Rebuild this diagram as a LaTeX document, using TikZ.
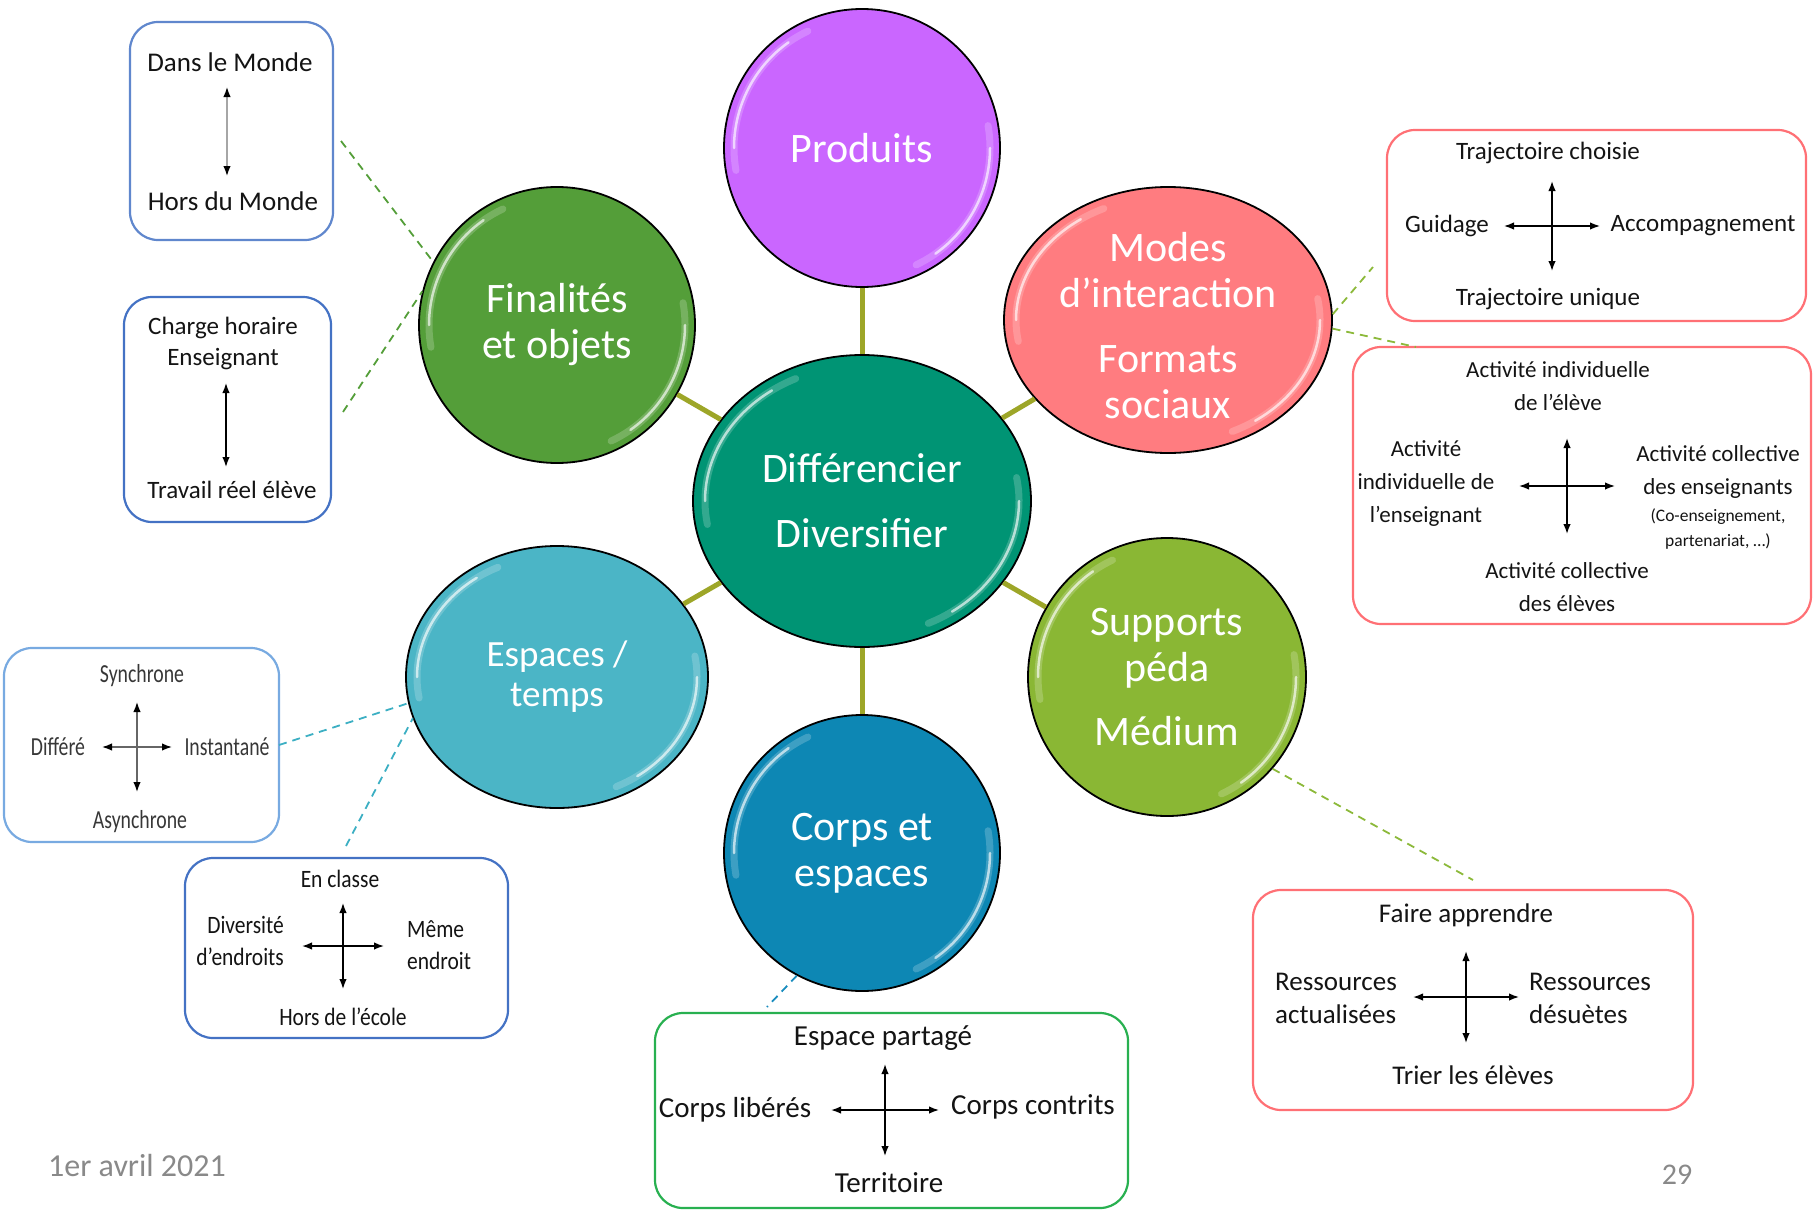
\documentclass[tikz,border=0pt]{standalone}
\usepackage{fontspec}
\setmainfont{Carlito}
\newfontfamily\condfont[FakeStretch=0.76]{Carlito}
\newfontfamily\narrowfont[FakeStretch=0.86]{Carlito}
\usepackage{xcolor}
\usetikzlibrary{shapes.geometric}
\usetikzlibrary{arrows.meta}
\usetikzlibrary{calc}

\definecolor{hubcol}{RGB}{0,148,116}
\definecolor{prodcol}{RGB}{202,102,255}
\definecolor{fincol}{RGB}{84,158,57}
\definecolor{modcol}{RGB}{255,124,128}
\definecolor{espcol}{RGB}{75,181,198}
\definecolor{supcol}{RGB}{138,183,52}
\definecolor{corcol}{RGB}{13,135,180}
\definecolor{spokecol}{RGB}{157,166,40}
\definecolor{bluecol}{RGB}{68,114,196}
\definecolor{lbluecol}{RGB}{120,170,225}
\definecolor{redcol}{RGB}{255,112,117}
\definecolor{greencol}{RGB}{40,176,80}
\definecolor{ink}{RGB}{20,20,20}
\definecolor{footgray}{RGB}{137,137,137}
\definecolor{mlink}{RGB}{140,185,58}
\definecolor{elink}{RGB}{60,175,195}
\definecolor{clink}{RGB}{25,140,190}

\begin{document}
\begin{tikzpicture}[x=1pt,y=-1pt,
    bubble/.style={ellipse,draw=black,line width=1.8pt,inner sep=0pt},
    bubtext/.style={inner sep=0pt,align=center,text=white,font=\fontsize{42}{46}\selectfont},
    spoke/.style={line width=5pt,draw=spokecol},
    card/.style={draw,rounded corners=28pt,line width=2.2pt,inner sep=0pt,fill=white},
    lbl/.style 2 args={inner sep=0pt,align=center,text=ink,font=\fontsize{#1}{#2}\selectfont},
    arr/.style={line width=1.5pt,{Latex[length=10pt,width=7.5pt,color=black]}-{Latex[length=10pt,width=7.5pt,color=black]}},
    link/.style={dash pattern=on 8pt off 6pt,line width=1.8pt},
    gloss/.style={draw=white,line width=7pt,opacity=0.2,line cap=round},
    glint/.style={draw=white,line width=2.5pt,opacity=0.65,line cap=round}]

  \useasboundingbox (0,0) rectangle (1816,1210);

  % circles
  \node[bubble,fill=hubcol,minimum width=338pt,minimum height=292pt] (hub) at (862,501) {};
  \node[bubble,fill=prodcol,minimum width=276pt,minimum height=278pt] (prod) at (862,148) {};
  \node[bubble,fill=fincol,minimum size=276pt] (fin) at (557,325) {};
  \node[bubble,fill=modcol,minimum width=328pt,minimum height=266pt] (mod) at (1168,320) {};
  \node[bubble,fill=espcol,minimum width=302pt,minimum height=262pt] (esp) at (557,677) {};
  \node[bubble,fill=supcol,minimum size=278pt] (sup) at (1167,677) {};
  \node[bubble,fill=corcol,minimum size=276pt] (cor) at (862,853) {};

  \foreach \b in {prod,fin,mod,esp,sup,cor}
    \draw[spoke] (hub) -- (\b);

  \foreach \b/\rx/\ry in {hub/157/135,prod/128/129,fin/128/128,mod/152/123,esp/140/121,sup/129/129,cor/128/128} {
    \draw[gloss] ($(\b)+({\rx*cos(-115)},{\ry*sin(-115)})$) arc[start angle=-115,end angle=-190,x radius=\rx,y radius=\ry];
    \draw[glint] ($(\b)+({\rx*cos(-125)},{\ry*sin(-125)})$) arc[start angle=-125,end angle=-180,x radius=\rx,y radius=\ry];
    \draw[gloss] ($(\b)+({\rx*cos(65)},{\ry*sin(65)})$) arc[start angle=65,end angle=-10,x radius=\rx,y radius=\ry];
    \draw[glint] ($(\b)+({\rx*cos(55)},{\ry*sin(55)})$) arc[start angle=55,end angle=0,x radius=\rx,y radius=\ry];
  }

  \node[bubtext] (hub-t) at (hub) {Différencier\\[19pt]Diversifier};
  \node[bubtext] (prod-t) at (prod) {Produits};
  \node[bubtext] (fin-t) at (fin) {Finalités\\et objets};
  \node[bubtext] (mod-t) at (1168,326) {Modes\\d’interaction\\[19pt]Formats\\sociaux};
  \node[bubtext,font=\fontsize{37}{40}\selectfont] (esp-t) at (esp) {Espaces /\\temps};
  \node[bubtext] (sup-t) at (sup) {Supports\\péda\\[18pt]Médium};
  \node[bubtext] (cor-t) at (cor) {Corps et\\espaces};

  % boxes
  \node[card,draw=bluecol!85,minimum width=203pt,minimum height=218pt] (monde) at (231.5,131) {};
  \node[card,draw=bluecol,minimum width=207pt,minimum height=225pt] (charge) at (227.5,409.5) {};
  \node[card,draw=lbluecol,minimum width=275pt,minimum height=194pt] (synchro) at (141.5,745) {};
  \node[card,draw=bluecol,minimum width=323pt,minimum height=180pt] (classe) at (346.5,948) {};
  \node[card,draw=greencol,minimum width=473pt,minimum height=195pt] (partage) at (891.5,1110.5) {};
  \node[card,draw=redcol,minimum width=440pt,minimum height=220pt] (faire) at (1473,1000) {};
  \node[card,draw=redcol,minimum width=419pt,minimum height=191pt] (traj) at (1596.5,225.5) {};
  \node[card,draw=redcol,minimum width=458pt,minimum height=277pt] (activ) at (1582,485.5) {};

  % dashed links
  \coordinate (l1) at (341,141);
  \coordinate (l2) at (343,412);
  \coordinate (l3) at (1373,267);
  \coordinate (l4) at (1416,347);
  \coordinate (l5) at (279,745);
  \coordinate (l6) at (346,846);
  \coordinate (l7) at (1473,880);
  \coordinate (l8) at (767,1007);
  \draw[link,draw=fincol] (l1) -- (fin.153);
  \draw[link,draw=fincol] (l2) -- (fin.166);
  \draw[link,draw=mlink] (mod.2) -- (l3);
  \draw[link,draw=mlink] (mod.-3) -- (l4);
  \draw[link,draw=elink] (l5) -- (esp.190);
  \draw[link,draw=elink] (l6) -- (esp.196);
  \draw[link,draw=mlink] (sup.-41) -- (l7);
  \draw[link,draw=clink] (cor.242) -- (l8);

  % arrows in the boxes
  \coordinate (c1) at (227,131.5);
  \coordinate (c2) at (226,425);
  \draw[arr,draw=gray!70] ([yshift=44.5pt]c1) -- ([yshift=-44.5pt]c1);
  \draw[arr] ([yshift=42pt]c2) -- ([yshift=-42pt]c2);
  \coordinate (c3) at (137,747);
  \coordinate (c4) at (343,946);
  \coordinate (c5) at (885,1110);
  \coordinate (c6) at (1466,997);
  \coordinate (c7) at (1552,226);
  \coordinate (c8) at (1567,486);
  \draw[arr,draw=gray!80!black] ([yshift=45pt]c3) -- ([yshift=-45pt]c3);
  \draw[arr,draw=gray!80!black] ([xshift=-35pt]c3) -- ([xshift=35pt]c3);
  \foreach \c/\w/\h in {c4/41/43,c5/54/46,c6/53/46,c7/48/45,c8/48/48} {
    \draw[arr] ([yshift=\h pt]\c) -- ([yshift=-\h pt]\c);
    \draw[arr] ([xshift=-\w pt]\c) -- ([xshift=\w pt]\c);
  }

  % box texts
  \node[lbl={27}{32}] (monde-a) at (230,62) {Dans le Monde};
  \node[lbl={27}{32}] (monde-b) at (233,201) {Hors du Monde};

  \node[lbl={25}{31}] (charge-a) at (223,343.5) {Charge horaire\\Enseignant};
  \node[lbl={25}{31}] (charge-b) at (232,490) {Travail réel élève};

  \node[lbl={26}{30},text=ink!85,font=\condfont\fontsize{26}{30}\selectfont] (sync-a) at (142,676) {Synchrone};
  \node[lbl={26}{30},text=ink!85,font=\condfont\fontsize{26}{30}\selectfont] (sync-b) at (140,822) {Asynchrone};
  \node[lbl={26}{30},text=ink!85,font=\condfont\fontsize{26}{30}\selectfont] (sync-c) at (58,747) {Différé};
  \node[lbl={26}{30},text=ink!85,font=\condfont\fontsize{26}{30}\selectfont] (sync-d) at (227,747) {Instantané};

  \node[lbl={25}{32},font=\narrowfont\fontsize{25}{32}\selectfont] (classe-a) at (340,879) {En classe};
  \node[lbl={25}{32},font=\narrowfont\fontsize{25}{32}\selectfont] (classe-b) at (343,1017) {Hors de l’école};
  \node[lbl={25}{32},font=\narrowfont\fontsize{25}{32}\selectfont,align=right,anchor=east] (classe-c) at (284,941) {Diversité\\d’endroits};
  \node[lbl={25}{32},font=\narrowfont\fontsize{25}{32}\selectfont,align=left,anchor=west] (classe-d) at (407,945) {Même\\endroit};

  \node[lbl={29}{34}] (part-a) at (883,1038) {Espace partagé};
  \node[lbl={29}{34}] (part-b) at (889,1183) {Territoire};
  \node[lbl={29}{34}] (part-c) at (735,1110) {Corps libérés};
  \node[lbl={29}{34}] (part-d) at (1033,1107) {Corps contrits};

  \node[lbl={27}{33}] (faire-a) at (1466,915) {Faire apprendre};
  \node[lbl={27}{33}] (faire-b) at (1473,1075) {Trier les élèves};
  \node[lbl={27}{33},align=left,anchor=west] (faire-c) at (1275,998.5) {Ressources\\actualisées};
  \node[lbl={27}{33},align=left,anchor=west] (faire-d) at (1529,998.5) {Ressources\\désuètes};

  \node[lbl={25}{31}] (traj-a) at (1548,153) {Trajectoire choisie};
  \node[lbl={25}{31}] (traj-b) at (1548,299) {Trajectoire unique};
  \node[lbl={25}{31}] (traj-c) at (1447,226) {Guidage};
  \node[lbl={25}{31}] (traj-d) at (1703,226) {Accompagnement};

  \node[lbl={23}{33}] (activ-a) at (1558,386.5) {Activité individuelle\\de l’élève};
  \node[lbl={23}{33}] (activ-b) at (1567,587) {Activité collective\\des élèves};
  \node[lbl={23}{33}] (activ-c) at (1426,483.5) {Activité\\individuelle de\\l’enseignant};
  \node[lbl={23}{33}] (activ-d) at (1718,472) {Activité collective\\des enseignants};
  \node[lbl={17.5}{25}] (activ-e) at (1718,529.5) {(Co-enseignement,\\partenariat, …)};

  % footer
  \node[lbl={32}{38},text=footgray] (date) at (137,1165) {1er avril 2021};
  \node[lbl={30}{36},text=footgray] (page) at (1677,1175) {29};
\end{tikzpicture}
\end{document}
